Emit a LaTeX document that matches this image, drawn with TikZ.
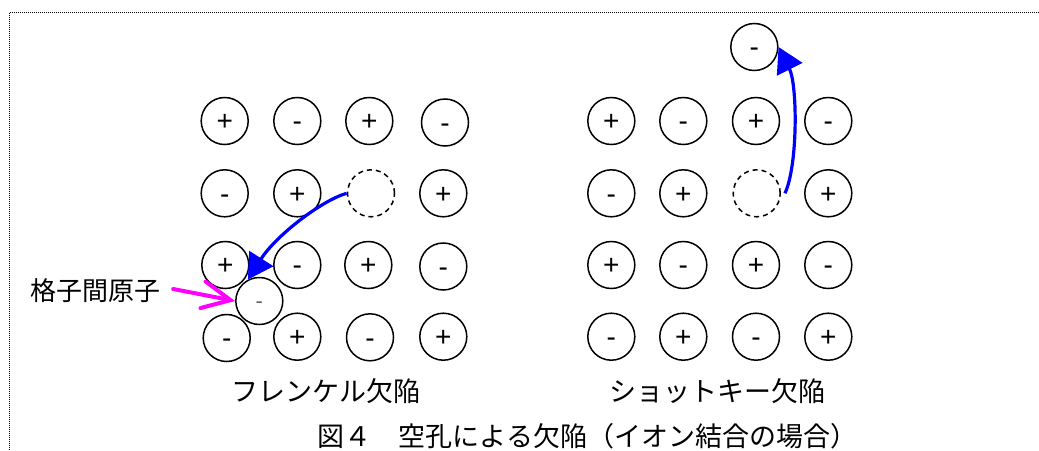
\documentclass[tikz,border=0pt]{standalone}
\usepackage{fontspec}
\setmainfont{Noto Sans CJK JP}
\newfontfamily\signfont{Liberation Sans}
\usetikzlibrary{arrows.meta,calc}
\definecolor{pinkline}{RGB}{255,0,255}
\definecolor{blueline}{RGB}{0,0,255}
\begin{document}
\begin{tikzpicture}[x=1pt,y=-1pt,
  ion/.style={circle,draw,line width=1.5pt,minimum size=47pt,inner sep=0pt,
    font=\signfont\fontsize{28}{28}\selectfont,text height=19.6pt,text depth=0pt},
  vac/.style={circle,draw,line width=1.5pt,minimum size=47pt,inner sep=0pt,
    dash pattern=on 5pt off 4pt},
  small/.style={circle,draw,line width=1.5pt,minimum size=47pt,inner sep=0pt,
    font=\signfont\fontsize{22}{22}\selectfont,text height=15.4pt,text depth=0pt,text=black!60},
  lbl/.style={font=\fontsize{27}{30}\selectfont,inner sep=0pt},
  move/.style={draw=blueline,line width=3.2pt,-{Triangle[length=25pt,width=28pt]}},
  point/.style={draw=pinkline,line width=4pt,line cap=round,
    -{Straight Barb[length=28pt,width=27pt,line cap=round]}},
  frame/.style={line width=1.1pt,dash pattern=on 1pt off 1pt,black}]
\useasboundingbox (0,0) rectangle (1039,450);
\draw[frame] (9.5,450) -- (9.5,12.3) -- (1039,12.3);

% Frenkel lattice
\node[ion] (L11) at (224.7,121) {+};
\node[ion] (L12) at (297.3,121) {-};
\node[ion] (L13) at (369.3,121) {+};
\node[ion] (L14) at (445,122.5) {-};
\node[ion] (L21) at (224.7,193.3) {-};
\node[ion] (L22) at (297.3,193.3) {+};
\node[vac] (L23) at (371,193.3) {};
\node[ion] (L24) at (443.3,193.3) {+};
\node[ion] (L31) at (225.3,265) {+};
\node[ion] (L32) at (297.3,265) {-};
\node[ion] (L33) at (368.3,265) {+};
\node[ion] (L34) at (443.3,266.5) {-};
\node[ion] (L41) at (226.7,338) {-};
\node[ion] (L42) at (297.3,336.7) {+};
\node[ion] (L43) at (370,337.3) {-};
\node[ion] (L44) at (443.3,336.7) {+};
\node[small] (inter) at (259.3,301) {-};

% Schottky lattice
\node[ion] (top) at (754.3,47) {-};
\node[ion] (R11) at (611.3,121) {+};
\node[ion] (R12) at (683.3,121) {-};
\node[ion] (R13) at (756,121) {+};
\node[ion] (R14) at (828.3,121) {-};
\node[ion] (R21) at (611.3,193.3) {-};
\node[ion] (R22) at (683.3,193.3) {+};
\node[vac] (R23) at (756.7,193.3) {};
\node[ion] (R24) at (828.3,193.3) {+};
\node[ion] (R31) at (611.3,265) {+};
\node[ion] (R32) at (683.3,265) {-};
\node[ion] (R33) at (756,265) {+};
\node[ion] (R34) at (828.3,265) {-};
\node[ion] (R41) at (611.3,336.7) {-};
\node[ion] (R42) at (683.3,336.7) {+};
\node[ion] (R43) at (756,336.7) {-};
\node[ion] (R44) at (828.3,336.7) {+};

% labels
\node[lbl,font=\fontsize{26}{30}\selectfont] (lab) at (95,291) {格子間原子};
\node[lbl] (fr) at (326,391.5) {フレンケル欠陥};
\node[lbl] (sc) at (717.5,391.5) {ショットキー欠陥};
\node[lbl] (cap) at (587.5,436) {図４　空孔による欠陥（イオン結合の場合）};

% arrows
\draw[move] (L23.west) .. controls ($(L23.west)+(-25,7)$) and ($(inter.118)+(28,-44)$) .. (inter.118);
\draw[move] ([xshift=4pt]R23.east) .. controls ($(R23.east)+(17,-28)$) and ($(top.east)+(19,38)$) .. (top.east);
\draw[point] ([xshift=13pt,yshift=2pt]lab.east) -- (inter.west);
\end{tikzpicture}
\end{document}
